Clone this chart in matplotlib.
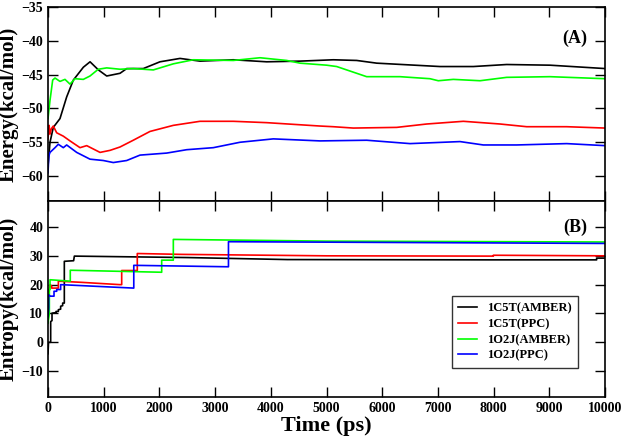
import numpy as np
import matplotlib.pyplot as plt

plt.rcParams['font.family'] = 'Liberation Serif'
plt.rcParams['font.weight'] = 'bold'

# Energia (painel A)
t_e_1c5t_amber = [0, 36, 95, 215, 335, 455, 635, 755, 905, 1054, 1293, 1413, 1711, 2010, 2370, 2729,
                  3327, 3926, 4524, 5122, 5542, 5901, 7038, 7636, 8235, 9012, 10000]
e_1c5t_amber = [-58.5, -55.0, -52.8, -51.5, -48.3, -45.8, -43.9, -43.1, -44.3, -45.2, -44.8, -44.1, -44.1,
                -43.1, -42.6, -43.0, -42.8, -43.1, -43.0, -42.8, -42.9, -43.3, -43.8, -43.8, -43.5, -43.6, -44.1]

t_e_1c5t_ppc = [0, 20, 36, 60, 95, 156, 275, 395, 575, 695, 934, 1113, 1293, 1531, 1831, 2250, 2729,
                3327, 3926, 4883, 5122, 5482, 6260, 6799, 7457, 8115, 8594, 9312, 10000]
e_1c5t_ppc = [-54.5, -52.5, -53.8, -53.0, -52.6, -53.6, -54.1, -54.8, -55.8, -55.5, -56.5, -56.2, -55.7,
              -54.7, -53.4, -52.5, -51.9, -51.9, -52.1, -52.6, -52.7, -52.9, -52.8, -52.3, -51.9, -52.3,
              -52.7, -52.7, -52.9]

t_e_1o2j_amber = [0, 36, 84, 126, 215, 305, 395, 485, 634, 754, 903, 1054, 1293, 1531, 1891, 2250, 2609,
                  3327, 3806, 4285, 4524, 5003, 5183, 5542, 5721, 6320, 6858, 7007, 7277, 7756, 8235,
                  9012, 10000]
e_1o2j_amber = [-51.5, -48.8, -45.8, -45.5, -46.0, -45.7, -46.4, -45.6, -45.7, -45.2, -44.2, -44.0, -44.2,
                -44.1, -44.3, -43.4, -42.8, -42.9, -42.5, -42.9, -43.3, -43.6, -43.8, -44.8, -45.3,
                -45.3, -45.6, -45.9, -45.7, -45.9, -45.4, -45.3, -45.6]

t_e_1o2j_ppc = [0, 15, 36, 126, 185, 275, 335, 515, 754, 993, 1172, 1413, 1652, 2131, 2490, 2968, 3447,
                4045, 4883, 5721, 6500, 7397, 7815, 8414, 9312, 10000]
e_1o2j_ppc = [-59.5, -57.0, -56.5, -55.8, -55.3, -55.8, -55.4, -56.5, -57.5, -57.7, -58.0, -57.7, -56.9,
              -56.6, -56.1, -55.8, -55.0, -54.5, -54.8, -54.7, -55.2, -54.9, -55.4, -55.4, -55.2, -55.5]

# Entropia (painel B) - degraus (tempos repetidos = saltos)
t_s_1c5t_amber = [0, 8, 8, 48, 48, 72, 72, 144, 144, 186, 186, 227, 227, 263, 263, 293, 293, 460, 473,
                  2500, 4300, 7900, 9850, 9850, 10000]
s_1c5t_amber = [-4.0, -0.5, 0.0, 0.0, 7.2, 7.5, 10.1, 10.3, 10.7, 10.7, 11.3, 11.5, 12.5, 12.7, 13.6,
                13.6, 28.1, 28.3, 29.9, 29.4, 28.7, 28.6, 28.6, 29.2, 29.2]

t_s_1c5t_ppc = [0, 20, 20, 35, 35, 66, 66, 186, 186, 600, 1290, 1323, 1323, 1603, 1603, 2400, 5000,
                7996, 7996, 10000]
s_1c5t_ppc = [14.0, 16.0, 18.3, 19.5, 20.0, 19.5, 18.8, 18.8, 21.2, 20.8, 20.0, 20.0, 24.9, 24.9, 30.8,
              30.5, 30.0, 29.9, 30.2, 30.0]

t_s_1o2j_amber = [0, 24, 24, 36, 36, 400, 400, 2041, 2041, 2250, 2250, 5000, 10000]
s_1o2j_amber = [6.6, 10.0, 18.3, 18.3, 21.7, 21.2, 25.0, 24.3, 28.5, 28.5, 35.7, 35.1, 34.8]

t_s_1o2j_ppc = [0, 12, 12, 40, 108, 108, 156, 156, 227, 227, 1540, 1540, 3240, 3240, 10000]
s_1o2j_ppc = [9.0, 12.0, 16.5, 16.0, 16.0, 17.7, 17.7, 18.3, 18.3, 20.0, 18.8, 26.7, 26.2, 34.9, 34.3]

labels = ['1C5T(AMBER)', '1C5T(PPC)', '1O2J(AMBER)', '1O2J(PPC)']
cores = ['black', 'red', '#00ff00', 'blue']

fig = plt.figure(figsize=(6.25, 4.4), dpi=100)
ax1 = fig.add_axes([0.0768, 0.543, 0.8912, 0.441])
ax2 = fig.add_axes([0.0768, 0.0977, 0.8912, 0.4453])

energias = [(t_e_1c5t_amber, e_1c5t_amber), (t_e_1c5t_ppc, e_1c5t_ppc),
            (t_e_1o2j_amber, e_1o2j_amber), (t_e_1o2j_ppc, e_1o2j_ppc)]
entropias = [(t_s_1c5t_amber, s_1c5t_amber), (t_s_1c5t_ppc, s_1c5t_ppc),
             (t_s_1o2j_amber, s_1o2j_amber), (t_s_1o2j_ppc, s_1o2j_ppc)]

for (t, e), c in zip(energias, cores):
    ax1.plot(t, e, color=c, lw=1.2)
for (t, s), c, lab in zip(entropias, cores, labels):
    ax2.plot(t, s, color=c, lw=1.2, label=lab)

ax1.set_xlim(0, 10000)
ax1.set_ylim(-63.7, -35)
ax1.set_yticks([-60, -55, -50, -45, -40, -35])
ax2.set_xlim(0, 10000)
ax2.set_ylim(-19, 49)
ax2.set_yticks([-10, 0, 10, 20, 30, 40])

for ax in (ax1, ax2):
    ax.set_xticks(np.arange(0, 10001, 1000))
    ax.tick_params(direction='in', length=7, width=1, top=True, right=True, labelsize=10)
    for sp in ax.spines.values():
        sp.set_linewidth(1.2)
ax1.tick_params(labelbottom=False)

ax1.set_ylabel('Energy(kcal/mol)', fontsize=15, fontweight='bold', labelpad=2)
ax2.set_ylabel('Entropy(kcal/mol)', fontsize=15, fontweight='bold', labelpad=2)
ax2.set_xlabel('Time (ps)', fontsize=16, fontweight='bold', labelpad=1)

ax1.text(0.968, 0.815, '(A)', transform=ax1.transAxes, fontsize=13, fontweight='bold', ha='right')
ax2.text(0.968, 0.84, '(B)', transform=ax2.transAxes, fontsize=13, fontweight='bold', ha='right')

leg = ax2.legend(loc='lower right', bbox_to_anchor=(0.951, 0.148), fontsize=9, frameon=True,
                 fancybox=False, edgecolor='black', handlelength=1.5, borderpad=0.5,
                 labelspacing=0.3, borderaxespad=0)
leg.get_frame().set_linewidth(1.0)

fig.savefig('out.png', dpi=100)
